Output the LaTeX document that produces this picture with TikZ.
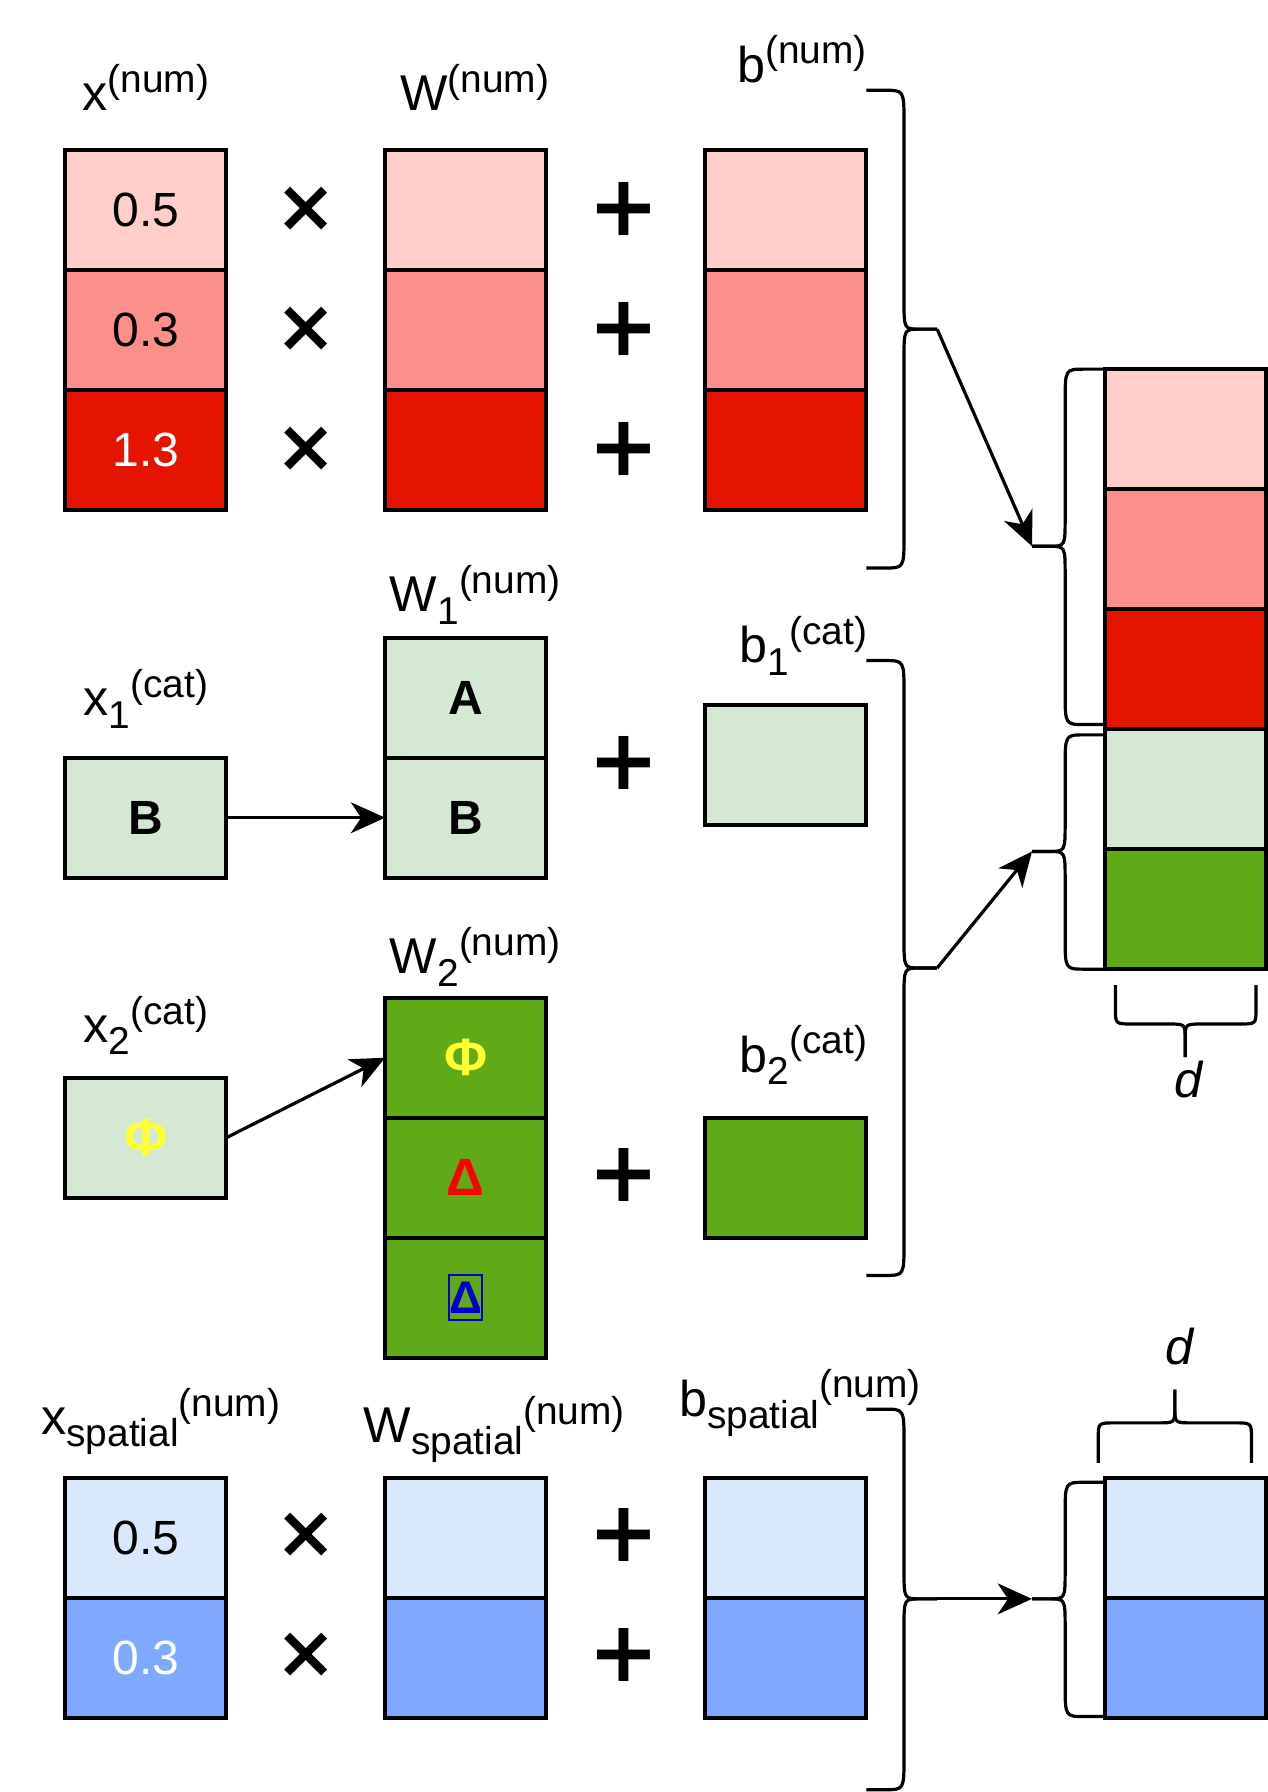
\documentclass[tikz,border=0pt]{standalone}
\usepackage{fontspec}
\setmainfont{Liberation Sans}
\newfontfamily\symfont{DejaVu Sans}
\usetikzlibrary{arrows.meta}
\definecolor{pinkA}{HTML}{FFCECA}
\definecolor{pinkB}{HTML}{FB8F89}
\definecolor{redC}{HTML}{E51400}
\definecolor{greenA}{HTML}{D5E8D4}
\definecolor{greenB}{HTML}{60A917}
\definecolor{blueA}{HTML}{DAE8FC}
\definecolor{blueB}{HTML}{7FA8FF}
\definecolor{phiyel}{HTML}{FFFF33}
\definecolor{delred}{HTML}{FF0000}
\definecolor{delblue}{HTML}{0000CC}
\newcommand\lbl[3]{\fontsize{44}{52}\selectfont #1\ifx\relax#2\relax\else\raisebox{-11pt}{\fontsize{34}{40}\selectfont #2}\fi\raisebox{16pt}{\fontsize{34}{40}\selectfont #3}}
\newcommand\mybracev[7]{%
 \draw[brc] (#1,#4) -- ({#2-(#7)*17},#4) .. controls (#2,#4) .. (#2,{#4+28}) -- (#2,{#5-25}) .. controls (#2,#5) .. ({#2+(#7)*14},#5) -- (#3,#5);
 \draw[brc] (#3,#5) -- ({#2+(#7)*14},#5) .. controls (#2,#5) .. (#2,{#5+25}) -- (#2,{#6-28}) .. controls (#2,#6) .. ({#2-(#7)*17},#6) -- (#1,#6);}
\newcommand\mybraceh[7]{%
 \draw[brc] (#4,#1) -- (#4,{#2-(#7)*13}) .. controls (#4,#2) .. ({#4+15},#2) -- ({#5-15},#2) .. controls (#5,#2) .. (#5,{#2+(#7)*13}) -- (#5,#3);
 \draw[brc] (#5,#3) -- (#5,{#2+(#7)*13}) .. controls (#5,#2) .. ({#5+15},#2) -- ({#6-15},#2) .. controls (#6,#2) .. (#6,{#2-(#7)*13}) -- (#6,#1);}
\begin{document}
\begin{tikzpicture}[x=1pt,y=-1pt,
  cell/.style={draw,line width=3.4pt,minimum width=141pt,minimum height=105pt,inner sep=0pt,outer sep=0pt,anchor=north west,font=\fontsize{42}{50}\selectfont},
  lab/.style={inner sep=0pt,anchor=base west},
  opm/.style={inner sep=0pt,font=\symfont\bfseries\fontsize{64}{64}\selectfont},
  opp/.style={inner sep=0pt,font=\symfont\bfseries\fontsize{74}{74}\selectfont},
  brc/.style={draw,line width=2.8pt,line join=round},
  arr/.style={draw,line width=2.8pt,-{Stealth[length=30pt,width=27pt,inset=9pt]}},
  dlab/.style={inner sep=0pt,font=\itshape\fontsize{44}{50}\selectfont},
  sym/.style={font=\bfseries\fontsize{46}{50}\selectfont}]
\useasboundingbox (0,0) rectangle (1109,1568);
% labels
\node[lab] (lx) at (72,97) {\lbl{x}{}{(num)}};
\node[lab] (lW) at (350,97) {\lbl{W}{}{(num)}};
\node[lab] (lb) at (645,72) {\lbl{b}{}{(num)}};
\node[lab] (lx1) at (73,626) {\lbl{x}{1}{(cat)}};
\node[lab] (lW1) at (341,535) {\lbl{W}{1}{(num)}};
\node[lab] (lb1) at (647,580) {\lbl{b}{1}{(cat)}};
\node[lab] (lx2) at (73,912) {\lbl{x}{2}{(cat)}};
\node[lab] (lW2) at (341,852) {\lbl{W}{2}{(num)}};
\node[lab] (lb2) at (647,938) {\lbl{b}{2}{(cat)}};
\node[lab] (lxs) at (36,1255) {\lbl{x}{spatial}{(num)}};
\node[lab] (lWs) at (318,1262) {\lbl{W}{spatial}{(num)}};
\node[lab] (lbs) at (594,1239) {\lbl{b}{spatial}{(num)}};
% row 1 numeric
\node[cell,fill=pinkA] (xn1) at (57,131) {0.5};
\node[cell,fill=pinkB] (xn2) at (57,236) {0.3};
\node[cell,fill=redC,text=white] (xn3) at (57,341) {1.3};
\node[cell,fill=pinkA] (wn1) at (337,131) {};
\node[cell,fill=pinkB] (wn2) at (337,236) {};
\node[cell,fill=redC] (wn3) at (337,341) {};
\node[cell,fill=pinkA] (bn1) at (617,131) {};
\node[cell,fill=pinkB] (bn2) at (617,236) {};
\node[cell,fill=redC] (bn3) at (617,341) {};
\foreach \yy/\nm in {183/1,288/2,393/3}{
  \node[opm] (mul\nm) at (268,\yy) {×};
  \node[opp] (add\nm) at (546,\yy) {+};
}
% result column
\node[cell,fill=pinkA] (r1) at (967,323) {};
\node[cell,fill=pinkB] (r2) at (967,428) {};
\node[cell,fill=redC] (r3) at (967,533) {};
\node[cell,fill=greenA] (r4) at (967,638) {};
\node[cell,fill=greenB] (r5) at (967,743) {};
% row 2 categorical 1
\node[cell,fill=greenA,font=\bfseries\fontsize{42}{50}\selectfont] (x1) at (57,663) {B};
\node[cell,fill=greenA,font=\bfseries\fontsize{42}{50}\selectfont] (w1a) at (337,558) {A};
\node[cell,fill=greenA,font=\bfseries\fontsize{42}{50}\selectfont] (w1b) at (337,663) {B};
\node[cell,fill=greenA] (b1) at (617,617) {};
\node[opp] (add4) at (546,668) {+};
% row 3 categorical 2
\node[cell,fill=greenA,sym,text=phiyel] (x2) at (57,943) {Φ};
\node[cell,fill=greenB,sym,text=phiyel] (w2a) at (337,873) {Φ};
\node[cell,fill=greenB,sym,text=delred] (w2b) at (337,978) {Δ};
\node[cell,fill=greenB] (w2c) at (337,1083) {};
\node[draw=delblue,line width=1.8pt,minimum width=25pt,minimum height=39pt,inner sep=0pt,text=delblue,font=\bfseries\fontsize{40}{44}\selectfont] (dlt) at (w2c.center) {Δ};
\node[cell,fill=greenB] (b2) at (617,978) {};
\node[opp] (add5) at (546,1028) {+};
% row 4 spatial
\node[cell,fill=blueA] (xs1) at (57,1293) {0.5};
\node[cell,fill=blueB,text=white] (xs2) at (57,1398) {0.3};
\node[cell,fill=blueA] (ws1) at (337,1293) {};
\node[cell,fill=blueB] (ws2) at (337,1398) {};
\node[cell,fill=blueA] (bs1) at (617,1293) {};
\node[cell,fill=blueB] (bs2) at (617,1398) {};
\node[opm] (mul4) at (268,1343) {×};
\node[opm] (mul5) at (268,1448) {×};
\node[opp] (add6) at (546,1343) {+};
\node[opp] (add7) at (546,1448) {+};
\node[cell,fill=blueA] (rs1) at (967,1293) {};
\node[cell,fill=blueB] (rs2) at (967,1398) {};
% braces
\mybracev{758}{791}{820}{79}{288}{497}{1}
\mybracev{758}{791}{820}{578}{847}{1116}{1}
\mybracev{758}{791}{820}{1233}{1399}{1566}{1}
\mybracev{967}{932}{903}{323}{478}{634}{-1}
\mybracev{967}{932}{903}{643}{745}{848}{-1}
\mybracev{967}{932}{903}{1297}{1399}{1502}{-1}
\mybraceh{862}{896}{925}{976}{1037}{1099}{1}
\mybraceh{1280}{1245}{1216}{961}{1028}{1095}{-1}
\node[dlab] (d1) at (1040,945) {d};
\node[dlab] (d2) at (1032,1178) {d};
% brace tips
\coordinate (tb1) at (820,288);
\coordinate (tb2) at (820,847);
\coordinate (tb4) at (820,1399);
\coordinate (tr1) at (903,478);
\coordinate (tr2) at (903,745);
\coordinate (tr4) at (903,1399);
% arrows
\draw[arr] (x1.east) -- (w1b.west);
\draw[arr] (x2.east) -- (w2a.west);
\draw[arr] (tb1) -- (tr1);
\draw[arr] (tb2) -- (tr2);
\draw[arr] (tb4) -- (tr4);
\end{tikzpicture}
\end{document}
